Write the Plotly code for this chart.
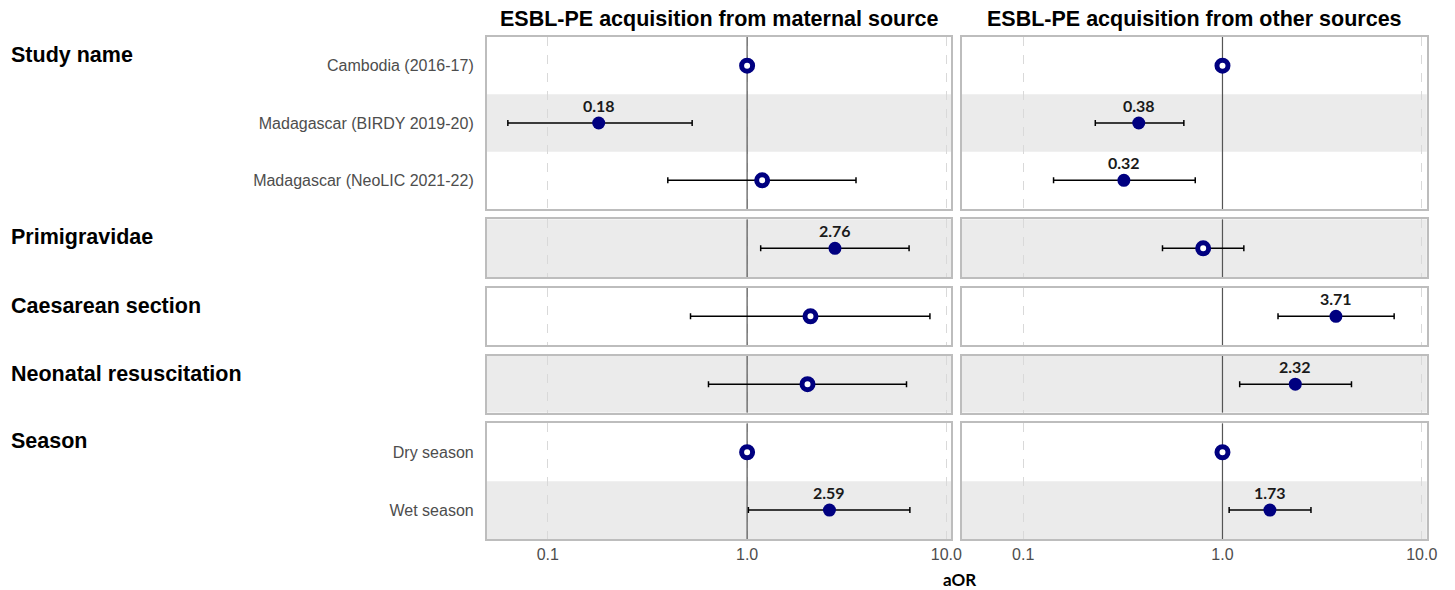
import math
import plotly.graph_objects as go

# ---------------- data ----------------
panel_titles = ["ESBL-PE acquisition from maternal source",
                "ESBL-PE acquisition from other sources"]
groups = ["Study name", "Primigravidae", "Caesarean section",
          "Neonatal resuscitation", "Season"]
group_items = [["Cambodia (2016-17)", "Madagascar (BIRDY 2019-20)", "Madagascar (NeoLIC 2021-22)"],
               [""], [""], [""],
               ["Dry season", "Wet season"]]

maternal_aor = [1.0, 0.18, 1.19, 2.76, 2.08, 2.01, 1.0, 2.59]
maternal_lo = [None, 0.063, 0.40, 1.17, 0.52, 0.64, None, 1.015]
maternal_hi = [None, 0.53, 3.52, 6.5, 8.27, 6.31, None, 6.56]
maternal_sig = [False, True, False, True, False, False, False, True]

other_aor = [1.0, 0.38, 0.32, 0.80, 3.71, 2.32, 1.0, 1.73]
other_lo = [None, 0.23, 0.142, 0.50, 1.90, 1.22, None, 1.08]
other_hi = [None, 0.64, 0.73, 1.28, 7.27, 4.44, None, 2.78]
other_sig = [False, True, True, False, True, True, False, True]

x_ticks = [0.1, 1, 10]
x_ticktext = ["0.1", "1.0", "10.0"]

# ---------------- layout geometry ----------------
W, H = 1455, 590
FIG_W = 1465
col_px = [(487, 952), (962.7, 1427.7)]
panel_px = [(37, 209), (219.3, 277.3), (287.7, 345), (355.7, 412.7), (423.3, 539)]
xrange_log = [-1.307, 1.025]

NAVY = "#000080"
SHADE = "#EBEBEB"
BORDER = "#BDBDBD"
ARIAL = "Arial, Liberation Sans, sans-serif"
CAL = "Lato, Open Sans, sans-serif"

fig = go.Figure()
shapes = []
annotations = []
layout_axes = {}

series = [(maternal_aor, maternal_lo, maternal_hi, maternal_sig),
          (other_aor, other_lo, other_hi, other_sig)]

for c in range(2):
    aor, lo, hi, sig = series[c]
    gidx = 0
    for i, items in enumerate(group_items):
        n = len(items)
        idx = c * 5 + i + 1
        xa = "x" if idx == 1 else f"x{idx}"
        ya = "y" if idx == 1 else f"y{idx}"
        xkey = "xaxis" if idx == 1 else f"xaxis{idx}"
        ykey = "yaxis" if idx == 1 else f"yaxis{idx}"
        top, bot = panel_px[i]
        x0, x1 = col_px[c]
        layout_axes[xkey] = dict(
            type="log", range=xrange_log, domain=[x0 / W, x1 / W], anchor=ya,
            tickvals=x_ticks, ticktext=x_ticktext, showticklabels=(i == 4),
            ticks="",
            tickfont=dict(family=ARIAL, size=16, color="#4D4D4D"),
            showgrid=True, gridcolor="#D9D9D9", griddash="dash", gridwidth=1,
            showline=True, mirror=True, linecolor=BORDER, linewidth=1.5,
            zeroline=False, fixedrange=True)
        show_y = (c == 0 and n > 1)
        layout_axes[ykey] = dict(
            range=[n + 0.5, 0.5], domain=[1 - bot / H, 1 - top / H], anchor=xa,
            tickvals=list(range(1, n + 1)), ticktext=items, showticklabels=show_y,
            ticks="outside" if show_y else "", ticklen=8, tickcolor="rgba(0,0,0,0)",
            tickfont=dict(family=ARIAL, size=16, color="#4D4D4D"),
            showgrid=False, showline=True, mirror=True, linecolor=BORDER, linewidth=1.5,
            zeroline=False, fixedrange=True)

        # alternating row shading
        for r in range(n):
            g = gidx + r
            if g % 2 == 1:
                shapes.append(dict(type="rect", xref=f"{xa} domain", yref=ya,
                                   x0=0, x1=1, y0=r + 0.5, y1=r + 1.5,
                                   fillcolor=SHADE, line=dict(width=0), layer="below"))
        # reference line at aOR = 1
        fig.add_trace(go.Scatter(x=[1, 1], y=[n + 0.5, 0.5], mode="lines",
                                 line=dict(color="#555555", width=1.2),
                                 xaxis=xa, yaxis=ya, hoverinfo="skip", showlegend=False))
        for r in range(n):
            g = gidx + r
            v = aor[g]
            if lo[g] is not None:
                err = dict(type="data", symmetric=False, array=[hi[g] - v],
                           arrayminus=[v - lo[g]], color="black", thickness=1.5, width=3)
            else:
                err = dict(visible=False)
            if sig[g]:
                marker = dict(symbol="circle", size=13, color=NAVY, line=dict(width=0))
            else:
                marker = dict(symbol="circle", size=11, color="white",
                              line=dict(color=NAVY, width=5))
            fig.add_trace(go.Scatter(x=[v], y=[r + 1], mode="markers", marker=marker,
                                     error_x=err, xaxis=xa, yaxis=ya,
                                     showlegend=False, hoverinfo="x"))
            if sig[g]:
                annotations.append(dict(x=math.log10(v), y=r + 1, xref=xa, yref=ya,
                                        text=f"{v:.2f}", showarrow=False, yshift=18,
                                        font=dict(family=CAL, size=16, color="#1A1A1A",
                                                  weight="bold")))
        if c == 0:
            annotations.append(dict(x=9 / W, y=1 - (top + 18) / H, xref="paper", yref="paper",
                                    xanchor="left", yanchor="middle", showarrow=False,
                                    text=f"<b>{groups[i]}</b>",
                                    font=dict(family=ARIAL, size=21.5, color="black")))
        gidx += n

    annotations.append(dict(x=(col_px[c][0] + col_px[c][1]) / 2 / W, y=1 - 19 / H,
                            xref="paper", yref="paper", xanchor="center", yanchor="middle",
                            showarrow=False, text=f"<b>{panel_titles[c]}</b>",
                            font=dict(family=ARIAL, size=21.5, color="black")))

annotations.append(dict(x=960 / W, y=1 - 579 / H, xref="paper", yref="paper",
                        xanchor="center", yanchor="middle", showarrow=False,
                        text="<b>aOR</b>",
                        font=dict(family=CAL, size=17, color="black")))

fig.update_layout(width=FIG_W, height=H, margin=dict(l=0, r=0, t=0, b=0),
                  paper_bgcolor="white", plot_bgcolor="white",
                  shapes=shapes, annotations=annotations, showlegend=False,
                  **layout_axes)

fig.write_html("out.html", config={"displayModeBar": False},
               post_script="document.body.style.margin='0';document.body.style.overflow='hidden';")
